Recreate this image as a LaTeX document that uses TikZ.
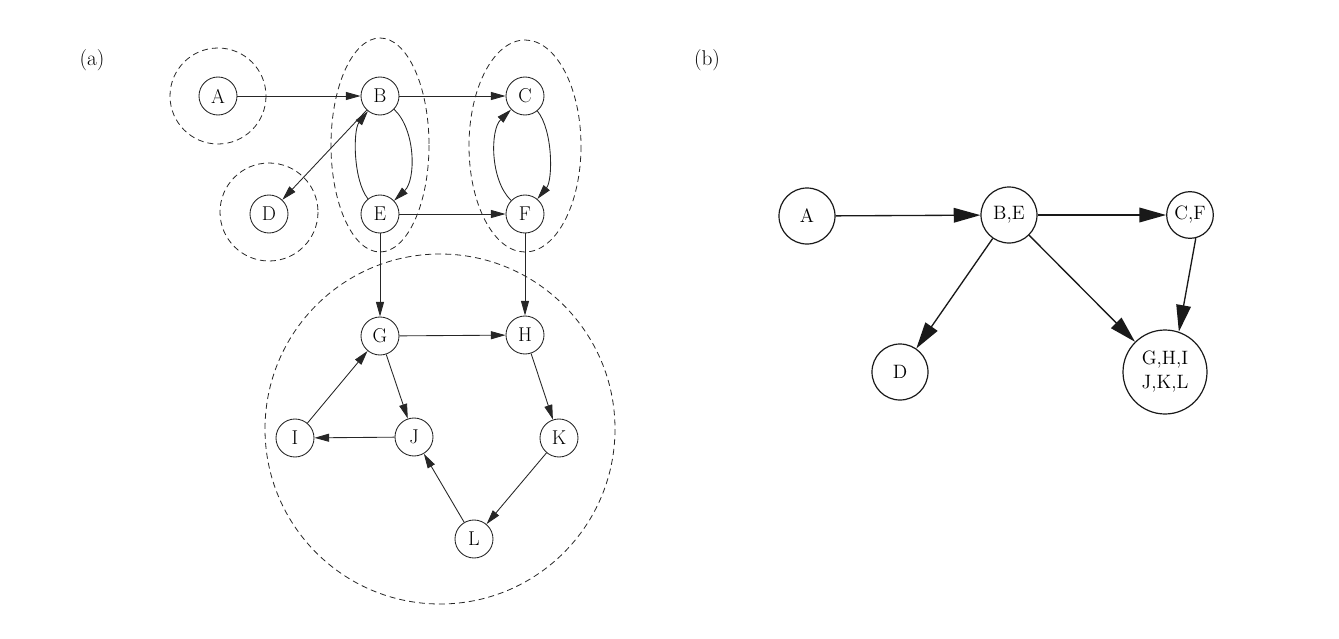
\documentclass[tikz,border=0pt]{standalone}
\usepackage{fontspec}
\usetikzlibrary{arrows.meta}
\begin{document}
\begin{tikzpicture}[x=0.75pt,y=-0.75pt,
  va/.style={circle,draw=black!85,line width=0.65pt,minimum size=28.5pt,inner sep=0pt,font=\fontsize{15}{17}\selectfont},
  ea/.style={draw=black!85,line width=0.65pt,-{Triangle[length=11pt,width=6pt]}},
  grp/.style={draw=black!85,dash pattern=on 4.5pt off 3pt,line width=0.6pt},
  vb/.style={circle,draw=black!90,line width=0.9pt,inner sep=0pt,align=center,font=\fontsize{14.5}{18}\selectfont},
  eb/.style={draw=black!90,line width=1pt,-{Triangle[length=20pt,width=11pt]}},
  lab/.style={font=\fontsize{16}{19}\selectfont}]
\useasboundingbox (0,0) rectangle (1339,639);
% labels
\node[lab] (la) at (92,60) {(a)};
\node[lab] (lb) at (707,60) {(b)};
% groups (a)
\draw[grp] (218,96) circle[radius=48];
\draw[grp] (269,212) circle[radius=49];
\draw[grp] (380,145) ellipse[x radius=49, y radius=107];
\draw[grp] (525,146) ellipse[x radius=56, y radius=106];
\draw[grp] (440,429) circle[radius=175];
% nodes (a)
\node[va] (aA) at (218,96) {A};
\node[va] (aB) at (380,96) {B};
\node[va] (aC) at (525,96) {C};
\node[va] (aD) at (269,214) {D};
\node[va] (aE) at (380,214) {E};
\node[va] (aF) at (525,214) {F};
\node[va] (aG) at (380,336) {G};
\node[va] (aH) at (525,335) {H};
\node[va] (aI) at (295,438) {I};
\node[va] (aJ) at (414,437) {J};
\node[va] (aK) at (559,438) {K};
\node[va] (aL) at (474,539) {L};
% edges (a)
\draw[ea] (aA) -- (aB);
\draw[ea] (aB) -- (aC);
\draw[ea] (aB) -- (aD);
\draw[ea] (aB) .. controls (416,130) and (416,180) .. (aE);
\draw[ea] (aE) .. controls (353,180) and (353,130) .. (aB);
\draw[ea] (aC) .. controls (553,130) and (553,180) .. (aF);
\draw[ea] (aF) .. controls (490,180) and (490,130) .. (aC);
\draw[ea] (aE) -- (aF);
\draw[ea] (aE) -- (aG);
\draw[ea] (aF) -- (aH);
\draw[ea] (aG) -- (aH);
\draw[ea] (aG) -- (aJ);
\draw[ea] (aJ) -- (aI);
\draw[ea] (aI) -- (aG);
\draw[ea] (aH) -- (aK);
\draw[ea] (aK) -- (aL);
\draw[ea] (aL) -- (aJ);
% nodes (b)
\node[vb,minimum size=42pt] (bA) at (807,216) {A};
\node[vb,minimum size=42pt] (bBE) at (1009,215) {B,E};
\node[vb,minimum size=35pt] (bCF) at (1190,215) {C,F};
\node[vb,minimum size=42pt] (bD) at (900,372) {D};
\node[vb,minimum size=63pt] (bG) at (1165,372) {G,H,I\\J,K,L};
% edges (b)
\draw[eb] (bA) -- (bBE);
\draw[eb] (bBE) -- (bCF);
\draw[eb] (bBE) -- (bD);
\draw[eb] (bBE) -- (bG);
\draw[eb] (bCF.-76) -- (bG.71);
\end{tikzpicture}
\end{document}
